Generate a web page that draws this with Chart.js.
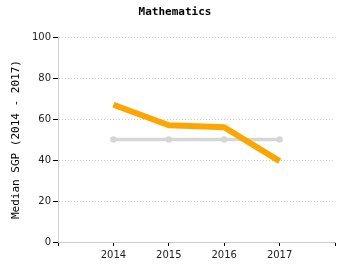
<!DOCTYPE html>
<html><head><meta charset="utf-8">
<script src="https://cdn.jsdelivr.net/npm/chart.js@4"></script>
<style>html,body{margin:0;padding:0;background:#fff}#wrap{width:350px;height:275px}</style>
</head><body><div id="wrap"><canvas id="c" width="350" height="275"></canvas></div>
<script>
const years = [2014, 2015, 2016, 2017];
const mathSGP = [67, 57, 56, 39.5];
const baseline = [50, 50, 50, 50];
const yTicks = [0, 20, 40, 60, 80, 100];

new Chart(document.getElementById('c'), {
  type: 'line',
  data: {
    datasets: [
      { label: 'Baseline', data: years.map((y, i) => ({x: y, y: baseline[i]})), borderColor: '#d6d6d6', backgroundColor: '#d6d6d6', borderWidth: 3.5, pointRadius: 1.5, pointHoverRadius: 1.5, order: 2 },
      { label: 'Mathematics', data: years.map((y, i) => ({x: y, y: mathSGP[i]})), borderColor: '#ffa500', backgroundColor: '#ffa500', borderWidth: 6, pointRadius: 0, borderJoinStyle: 'round', order: 1 }
    ]
  },
  options: {
    responsive: false, animation: false, devicePixelRatio: 1,
    layout: { padding: 0 },
    plugins: {
      legend: { display: false }, tooltip: { enabled: false },
      title: { display: true, text: 'Mathematics', color: '#000', font: { family: 'DejaVu Sans Mono', size: 11, weight: 'bold' }, padding: { top: 6, bottom: 18 } }
    },
    scales: {
      x: {
        type: 'linear', min: years[0] - 1, max: years[years.length - 1] + 1,
        afterBuildTicks: s => { s.ticks = []; for (let v = years[0] - 1; v <= years[years.length - 1] + 1; v++) s.ticks.push({value: v}); },
        ticks: { autoSkip: false, maxRotation: 0, color: '#222', font: { family: 'DejaVu Sans', size: 10 }, padding: 3,
          callback: v => years.includes(v) ? String(v) : '' },
        grid: { drawOnChartArea: false, tickLength: 4, tickColor: '#000', tickWidth: 1 },
        border: { color: '#ccc', width: 1 },
        afterFit: s => { s.height = 33; }
      },
      y: {
        min: 0, max: 100,
        afterBuildTicks: s => { s.ticks = yTicks.map(v => ({value: v})); },
        ticks: { color: '#222', font: { family: 'DejaVu Sans', size: 10 }, padding: 2 },
        grid: { color: '#ccc', tickLength: 5, tickColor: '#000', tickWidth: 1, tickBorderDash: [] },
        border: { color: '#ccc', width: 1, dash: [1, 2] },
        title: { display: true, text: 'Median SGP (2014 - 2017)', color: '#000', font: { family: 'DejaVu Sans Mono', size: 11 }, padding: { top: 10, bottom: 6 } },
        afterFit: s => { s.width = 58; }
      },
      yR: {
        position: 'right', display: true, min: 0, max: 100,
        ticks: { display: false }, grid: { display: false }, border: { display: false },
        afterFit: s => { s.width = 15; }
      }
    }
  }
});
</script></body></html>
